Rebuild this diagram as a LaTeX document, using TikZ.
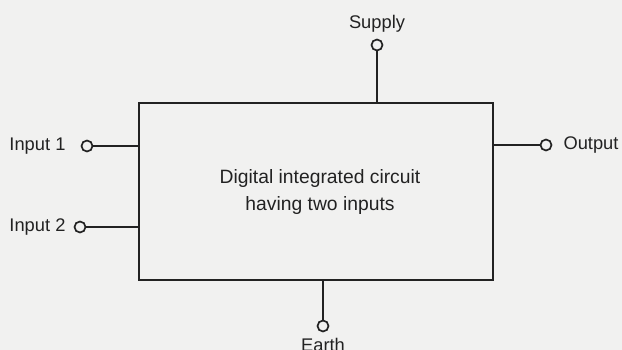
\documentclass[tikz,border=0pt]{standalone}
\usepackage{fontspec}
\setmainfont{Liberation Sans}
\usepackage{xcolor}
\definecolor{paper}{RGB}{241,241,240}
\definecolor{ink}{RGB}{34,34,34}
\usepackage{tikz}
\usetikzlibrary{positioning, calc}

\begin{document}
\begin{tikzpicture}[x=1pt, y=-1pt,
    txt/.style={font=\fontsize{18.3}{23}\selectfont, text=ink, inner sep=0pt},
    terminal/.style={circle, draw=ink, line width=1.7pt, minimum size=11pt, inner sep=0pt},
    wire/.style={draw=ink, line width=1.7pt}]
    % Fundo
    \fill[paper] (0,0) rectangle (622,350);
    \useasboundingbox (0,0) rectangle (622,350);

    % Bloco central
    \node[draw=ink, line width=1.9pt, minimum width=354pt, minimum height=177pt,
          inner sep=0pt] (ic) at (316,191.5) {};
    \node[txt, align=center, font=\fontsize{19.3}{27}\selectfont] (ictext) at (320,192.5)
        {Digital integrated circuit\\having two inputs};

    % Terminais
    \node[terminal] (sup) at (377,45) {};
    \node[terminal] (gnd) at (323,326) {};
    \node[terminal] (in1) at (87,146) {};
    \node[terminal] (in2) at (80,227) {};
    \node[terminal] (out) at (546,145) {};

    % Ligacoes
    \draw[wire] (sup) -- (sup |- ic.north);
    \draw[wire] (gnd) -- (gnd |- ic.south);
    \draw[wire] (in1) -- (in1 -| ic.west);
    \draw[wire] (in2) -- (in2 -| ic.west);
    \draw[wire] (out) -- (out -| ic.east);

    % Labels
    \node[txt, above=6pt of sup] (suplabel) {Supply};
    \node[txt, below=6pt of gnd] (gndlabel) {Earth};
    \node[txt, left=15pt of in1] (in1label) {Input 1};
    \node[txt, left=8pt of in2] (in2label) {Input 2};
    \node[txt, right=11pt of out] (outlabel) {Output};
\end{tikzpicture}
\end{document}
